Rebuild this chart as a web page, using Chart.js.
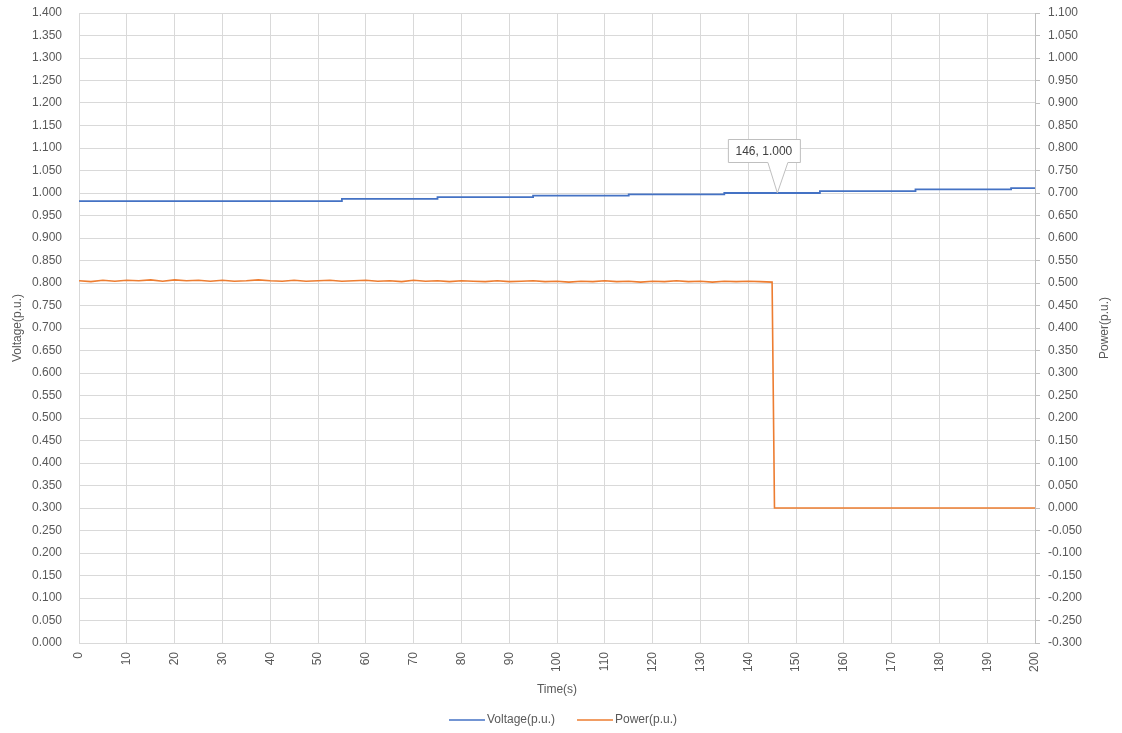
<!DOCTYPE html>
<html>
<head>
<meta charset="utf-8">
<script src="https://cdn.jsdelivr.net/npm/chart.js@4/dist/chart.umd.min.js"></script>
<style>
  html, body { margin: 0; padding: 0; background: #fff; }
  #wrap { width: 1122px; height: 733px; }
</style>
</head>
<body>
<div id="wrap"><canvas id="vpChart" width="1122" height="733"></canvas></div>
<script>
// voltage holds a level from each step time to the next one
const voltageTimes = [0, 55, 75, 95, 115, 135, 155, 175, 195, 200];
const voltageValues = [0.982, 0.987, 0.991, 0.994, 0.997, 1.000, 1.004, 1.008, 1.011, 1.011];

// power output until the trip at ~145.5 s, zero afterwards
const powerTimes = [0, 2.5, 5, 7.5, 10, 12.5, 15, 17.5, 20, 22.5, 25, 27.5, 30, 32.5, 35, 37.5, 40, 42.5, 45, 47.5,
    50, 52.5, 55, 57.5, 60, 62.5, 65, 67.5, 70, 72.5, 75, 77.5, 80, 82.5, 85, 87.5, 90, 92.5, 95, 97.5,
    100, 102.5, 105, 107.5, 110, 112.5, 115, 117.5, 120, 122.5, 125, 127.5, 130, 132.5, 135, 137.5, 140, 142.5,
    145, 145.5, 150, 200];
const powerValues = [0.505, 0.503, 0.506, 0.504, 0.506, 0.505, 0.507, 0.504, 0.507, 0.505, 0.506, 0.504,
    0.506, 0.504, 0.505, 0.507, 0.505, 0.504, 0.506, 0.504, 0.505, 0.506, 0.504, 0.505,
    0.506, 0.504, 0.505, 0.503, 0.506, 0.504, 0.505, 0.503, 0.505, 0.504, 0.503, 0.505,
    0.503, 0.504, 0.505, 0.503, 0.504, 0.502, 0.504, 0.503, 0.505, 0.503, 0.504, 0.502,
    0.504, 0.503, 0.505, 0.503, 0.504, 0.502, 0.504, 0.503, 0.504, 0.503,
    0.502, 0.000, 0.000, 0.000];

const calloutTime = 146;
const calloutValue = 1.000;

const textColor = '#595959';
const gridColor = '#d9d9d9';
const fontFamily = '"Liberation Sans", Arial, sans-serif';

function toXY(xs, ys) {
    return xs.map((x, i) => ({ x: x, y: ys[i] }));
}

const fmt3 = v => Number(v).toFixed(3);

// fixed axis sizes so the plot area lands where we want it
function fixScale(size) {
    return s => {
        if (s.isHorizontal()) {
            s.height = size;
        } else {
            s.width = size;
        }
        s.paddingTop = 0;
        s.paddingBottom = 0;
        s.paddingLeft = 0;
        s.paddingRight = 0;
    };
}

// axis titles, legend and the data callout are drawn by hand
const decorations = {
    id: 'decorations',
    afterDraw(chart) {
        const { ctx, chartArea, scales } = chart;
        ctx.save();
        ctx.fillStyle = textColor;
        ctx.font = '12px ' + fontFamily;
        ctx.textAlign = 'center';
        ctx.textBaseline = 'middle';

        const midY = (chartArea.top + chartArea.bottom) / 2;
        ctx.save();
        ctx.translate(18, midY);
        ctx.rotate(-Math.PI / 2);
        ctx.fillText('Voltage(p.u.)', 0, 0);
        ctx.restore();

        ctx.save();
        ctx.translate(1105, midY);
        ctx.rotate(-Math.PI / 2);
        ctx.fillText('Power(p.u.)', 0, 0);
        ctx.restore();

        ctx.fillText('Time(s)', (chartArea.left + chartArea.right) / 2, 690);

        // legend
        const items = chart.data.datasets.map(ds => ({ text: ds.label, color: ds.borderColor }));
        const lineLen = 36;
        const gap = 22;
        const widths = items.map(it => lineLen + 2 + ctx.measureText(it.text).width);
        const total = widths.reduce((a, b) => a + b, 0) + gap * (items.length - 1);
        let lx = (chartArea.left + chartArea.right) / 2 - total / 2 + 6;
        const ly = 720;
        ctx.textAlign = 'left';
        items.forEach((it, i) => {
            ctx.strokeStyle = it.color;
            ctx.lineWidth = 1.5;
            ctx.beginPath();
            ctx.moveTo(lx, ly);
            ctx.lineTo(lx + lineLen, ly);
            ctx.stroke();
            ctx.fillText(it.text, lx + lineLen + 2, ly);
            lx += widths[i] + gap;
        });

        // data callout
        const tx = scales.x.getPixelForValue(calloutTime);
        const ty = scales.y.getPixelForValue(calloutValue);
        const label = calloutTime + ', ' + fmt3(calloutValue);
        const bw = 72, bh = 23;
        const bx = tx - 49, by = ty - 54;
        ctx.fillStyle = '#ffffff';
        ctx.strokeStyle = '#bfbfbf';
        ctx.lineWidth = 1;
        ctx.beginPath();
        ctx.moveTo(bx + 0.5, by + 0.5);
        ctx.lineTo(bx + bw + 0.5, by + 0.5);
        ctx.lineTo(bx + bw + 0.5, by + bh + 0.5);
        ctx.lineTo(tx + 11, by + bh + 0.5);
        ctx.lineTo(tx + 0.5, ty);
        ctx.lineTo(tx - 9, by + bh + 0.5);
        ctx.lineTo(bx + 0.5, by + bh + 0.5);
        ctx.closePath();
        ctx.fill();
        ctx.stroke();
        ctx.fillStyle = '#404040';
        ctx.textAlign = 'center';
        ctx.fillText(label, bx + bw / 2, by + bh / 2 + 1);
        ctx.restore();
    }
};

function createVoltagePowerChart() {
    const ctx = document.getElementById('vpChart');
    if (!ctx) return;

    new Chart(ctx, {
        type: 'line',
        data: {
            datasets: [
                {
                    label: 'Voltage(p.u.)',
                    data: toXY(voltageTimes, voltageValues),
                    borderColor: '#4472C4',
                    backgroundColor: '#4472C4',
                    borderWidth: 1.8,
                    stepped: true,
                    pointRadius: 0,
                    yAxisID: 'y'
                },
                {
                    label: 'Power(p.u.)',
                    data: toXY(powerTimes, powerValues),
                    borderColor: '#ED7D31',
                    backgroundColor: '#ED7D31',
                    borderWidth: 1.6,
                    tension: 0,
                    pointRadius: 0,
                    yAxisID: 'y1'
                }
            ]
        },
        options: {
            responsive: false,
            animation: false,
            layout: { padding: { top: 13, bottom: 0, left: 0, right: 0 } },
            plugins: {
                legend: { display: false },
                tooltip: { enabled: false },
                title: { display: false }
            },
            scales: {
                x: {
                    type: 'linear',
                    min: 0,
                    max: 200,
                    afterFit: fixScale(90),
                    ticks: {
                        stepSize: 10,
                        minRotation: 90,
                        maxRotation: 90,
                        padding: 9,
                        color: textColor,
                        font: { family: fontFamily, size: 12 }
                    },
                    grid: { color: gridColor, drawTicks: false },
                    border: { color: gridColor }
                },
                y: {
                    position: 'left',
                    min: 0,
                    max: 1.4,
                    afterFit: fixScale(79),
                    ticks: {
                        stepSize: 0.05,
                        padding: 17,
                        color: textColor,
                        font: { family: fontFamily, size: 12 },
                        callback: v => fmt3(v)
                    },
                    grid: { color: gridColor, drawTicks: false },
                    border: { display: false }
                },
                y1: {
                    position: 'right',
                    min: -0.3,
                    max: 1.1,
                    afterFit: fixScale(87),
                    ticks: {
                        stepSize: 0.05,
                        padding: 8,
                        color: textColor,
                        font: { family: fontFamily, size: 12 },
                        callback: v => fmt3(v)
                    },
                    grid: { drawOnChartArea: false, color: '#bfbfbf', tickLength: 5 },
                    border: { color: '#bfbfbf' }
                }
            }
        },
        plugins: [decorations]
    });
}

document.addEventListener('DOMContentLoaded', () => {
    createVoltagePowerChart();
});
</script>
</body>
</html>
